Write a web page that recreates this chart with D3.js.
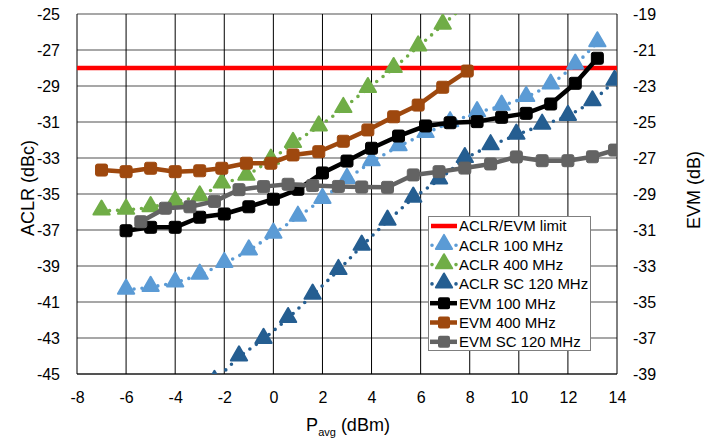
<!DOCTYPE html>
<html>
<head>
<meta charset="utf-8">
<script src="https://cdn.jsdelivr.net/npm/d3@7"></script>
<style>
  body { margin: 0; background: #fff; }
  text { font-family: "Liberation Sans", Arial, sans-serif; fill: #000; }
</style>
</head>
<body>
<div id="chart"></div>
<script>
// data
const xTicks = [-8, -6, -4, -2, 0, 2, 4, 6, 8, 10, 12, 14];
const leftTicks = [-45, -43, -41, -39, -37, -35, -33, -31, -29, -27, -25];
const rightTicks = [-39, -37, -35, -33, -31, -29, -27, -25, -23, -21, -19];

const limitP = [-8, 14];
const limitVal = [-28, -28];

const p100 = [-6, -5, -4, -3, -2, -1, 0, 1, 2, 3, 4, 5.1, 6.2, 7.2, 8.3, 9.3, 10.3, 11.3, 12.3, 13.2];
const aclr100 = [-40.33, -40.18, -39.93, -39.5, -38.85, -38.15, -37.22, -36.28, -35.29, -34.18, -33.2, -32.36, -31.63, -31.03, -30.47, -30.11, -29.63, -28.94, -27.83, -26.59];
const evm100 = [-31.04, -30.85, -30.85, -30.29, -30.11, -29.71, -29.29, -28.74, -27.83, -27.17, -26.46, -25.78, -25.22, -25.04, -24.98, -24.74, -24.52, -24.0, -22.85, -21.46];

const p400 = [-7, -6, -5, -4, -3, -2.1, -1.1, -0.1, 0.8, 1.85, 2.85, 3.85, 4.9, 5.9, 6.9, 7.9];
const aclr400 = [-35.94, -35.89, -35.75, -35.42, -35.15, -34.44, -34.0, -33.11, -32.18, -31.26, -30.24, -29.13, -28.02, -26.82, -25.61, -24.39];
const evm400 = [-27.67, -27.76, -27.57, -27.76, -27.71, -27.57, -27.29, -27.29, -26.83, -26.65, -26.07, -25.44, -24.71, -24.06, -23.07, -22.17];

const pSC = [-5.4, -4.4, -3.4, -2.4, -1.4, -0.4, 0.6, 1.6, 2.65, 3.6, 4.65, 5.7, 6.75, 7.8, 8.85, 9.9, 10.95, 12.0, 13.0, 13.9];
const aclrSC = [null, null, null, -45.4, -44.04, -43.07, -41.91, -40.61, -39.24, -37.89, -36.5, -35.22, -34.21, -33.02, -32.31, -31.72, -31.17, -30.68, -29.87, -28.73];
const evmSC = [-30.54, -29.79, -29.71, -29.41, -28.76, -28.59, -28.46, -28.53, -28.58, -28.61, -28.63, -27.94, -27.76, -27.56, -27.33, -26.94, -27.15, -27.15, -26.93, -26.56];

const width = 705;
const height = 442;
const plotL = 77, plotR = 617, plotT = 14, plotB = 374;

const svg = d3.select("#chart")
  .append("svg")
  .attr("width", width)
  .attr("height", height);

const x = d3.scaleLinear().domain([-8, 14]).range([plotL, plotR]);
const yL = d3.scaleLinear().domain([-45, -25]).range([plotB, plotT]);
const yR = d3.scaleLinear().domain([-39, -19]).range([plotB, plotT]);

// plain hyphen minus like the original
const fmt = d => String(d);

// grid
svg.append("g")
  .selectAll("line")
  .data(leftTicks)
  .join("line")
  .attr("x1", plotL).attr("x2", plotR)
  .attr("y1", d => yL(d)).attr("y2", d => yL(d))
  .attr("stroke", "#8a8a8a")
  .attr("stroke-width", 1.6);

svg.append("g")
  .selectAll("line")
  .data(xTicks)
  .join("line")
  .attr("x1", d => x(d)).attr("x2", d => x(d))
  .attr("y1", plotT).attr("y2", plotB)
  .attr("stroke", "#000")
  .attr("stroke-width", 1);

svg.append("line")
  .attr("x1", plotL).attr("x2", plotR)
  .attr("y1", plotB).attr("y2", plotB)
  .attr("stroke", "#000").attr("stroke-width", 1);

// axes (labels only)
const axBottom = svg.append("g")
  .attr("transform", `translate(0,${plotB})`)
  .call(d3.axisBottom(x).tickValues(xTicks).tickSize(0).tickPadding(18).tickFormat(fmt));
const axLeft = svg.append("g")
  .attr("transform", `translate(${plotL},0)`)
  .call(d3.axisLeft(yL).tickValues(leftTicks).tickSize(0).tickPadding(17).tickFormat(fmt));
const axRight = svg.append("g")
  .attr("transform", `translate(${plotR},0)`)
  .call(d3.axisRight(yR).tickValues(rightTicks).tickSize(0).tickPadding(16).tickFormat(fmt));

[axBottom, axLeft, axRight].forEach(a => {
  a.select(".domain").remove();
  a.selectAll("text")
    .style("font-family", "'Liberation Sans', Arial, sans-serif")
    .style("font-size", "16px")
    .attr("fill", "#000");
});

// clip to plot area
svg.append("clipPath").attr("id", "plot")
  .append("rect")
  .attr("x", plotL).attr("y", plotT)
  .attr("width", plotR - plotL).attr("height", plotB - plotT);

const plot = svg.append("g").attr("clip-path", "url(#plot)");

const pts = (ps, vs) => ps.map((p, i) => [p, vs[i]]).filter(d => d[1] != null);

const tri = d3.symbol().type(d3.symbolTriangle).size(115);

function aclrSeries(ps, vs, color) {
  const data = pts(ps, vs);
  const line = d3.line().x(d => x(d[0])).y(d => yL(d[1]));
  plot.append("path")
    .attr("d", line(data))
    .attr("fill", "none")
    .attr("stroke", color)
    .attr("stroke-width", 3.6)
    .attr("stroke-linecap", "round")
    .attr("stroke-dasharray", "0 8");
  plot.append("g")
    .selectAll("path")
    .data(data)
    .join("path")
    .attr("d", tri)
    .attr("transform", d => `translate(${x(d[0])},${yL(d[1]) - 1})`)
    .attr("fill", color)
    .attr("stroke", color)
    .attr("stroke-width", 2)
    .attr("stroke-linejoin", "round");
}

function evmSeries(ps, vs, color) {
  const data = pts(ps, vs);
  const line = d3.line().x(d => x(d[0])).y(d => yR(d[1]));
  plot.append("path")
    .attr("d", line(data))
    .attr("fill", "none")
    .attr("stroke", color)
    .attr("stroke-width", 4.5)
    .attr("stroke-linejoin", "round");
  plot.append("g")
    .selectAll("rect")
    .data(data)
    .join("rect")
    .attr("x", d => x(d[0]) - 6)
    .attr("y", d => yR(d[1]) - 6)
    .attr("width", 12).attr("height", 12)
    .attr("rx", 2)
    .attr("fill", color)
    .attr("stroke", color)
    .attr("stroke-width", 1);
}

// limit line
plot.append("path")
  .attr("d", d3.line().x(d => x(d[0])).y(d => yL(d[1]))(pts(limitP, limitVal)))
  .attr("stroke", "#ff0000")
  .attr("stroke-width", 4.5)
  .attr("fill", "none");

aclrSeries(p100, aclr100, "#5b9bd5");
aclrSeries(p400, aclr400, "#70ad47");
aclrSeries(pSC, aclrSC, "#255e91");
evmSeries(p100, evm100, "#000000");
evmSeries(p400, evm400, "#9e480e");
evmSeries(pSC, evmSC, "#636363");

// axis titles
svg.append("text")
  .attr("transform", "translate(34,188) rotate(-90)")
  .attr("text-anchor", "middle")
  .style("font-size", "18px")
  .text("ACLR (dBc)");

svg.append("text")
  .attr("transform", "translate(700,190) rotate(-90)")
  .attr("text-anchor", "middle")
  .style("font-size", "18px")
  .text("EVM (dB)");

const xt = svg.append("text")
  .attr("x", 348).attr("y", 431)
  .attr("text-anchor", "middle")
  .style("font-size", "18px");
xt.append("tspan").text("P");
xt.append("tspan").attr("dy", 5).style("font-size", "11px").text("avg");
xt.append("tspan").attr("dy", -5).text(" (dBm)");

// legend
const legendItems = [
  { name: "ACLR/EVM limit", color: "#ff0000", kind: "limit" },
  { name: "ACLR 100 MHz", color: "#5b9bd5", kind: "aclr" },
  { name: "ACLR 400 MHz", color: "#70ad47", kind: "aclr" },
  { name: "ACLR SC 120 MHz", color: "#255e91", kind: "aclr" },
  { name: "EVM 100 MHz", color: "#000000", kind: "evm" },
  { name: "EVM 400 MHz", color: "#9e480e", kind: "evm" },
  { name: "EVM SC 120 MHz", color: "#636363", kind: "evm" }
];

const lg = svg.append("g");
lg.append("rect")
  .attr("x", 428.5).attr("y", 216.5)
  .attr("width", 162).attr("height", 134)
  .attr("fill", "#fff")
  .attr("stroke", "#7f7f7f")
  .attr("stroke-width", 1);

legendItems.forEach((it, i) => {
  const cy = 226 + i * 19.3;
  const g = lg.append("g");
  if (it.kind === "limit") {
    g.append("line").attr("x1", 431).attr("x2", 457).attr("y1", cy).attr("y2", cy)
      .attr("stroke", it.color).attr("stroke-width", 4.5);
  } else if (it.kind === "aclr") {
    g.append("line").attr("x1", 432).attr("x2", 457).attr("y1", cy).attr("y2", cy)
      .attr("stroke", it.color).attr("stroke-width", 3.6)
      .attr("stroke-linecap", "round").attr("stroke-dasharray", "0 8");
    g.append("path").attr("d", tri)
      .attr("transform", `translate(444,${cy - 1})`)
      .attr("fill", it.color).attr("stroke", it.color)
      .attr("stroke-width", 2).attr("stroke-linejoin", "round");
  } else {
    g.append("line").attr("x1", 430).attr("x2", 457).attr("y1", cy).attr("y2", cy)
      .attr("stroke", it.color).attr("stroke-width", 4.5);
    g.append("rect").attr("x", 438).attr("y", cy - 6).attr("width", 12).attr("height", 12)
      .attr("rx", 2).attr("fill", it.color);
  }
  g.append("text")
    .attr("x", 459).attr("y", cy)
    .attr("dy", "0.36em")
    .style("font-size", "15px")
    .text(it.name);
});
</script>
</body>
</html>
